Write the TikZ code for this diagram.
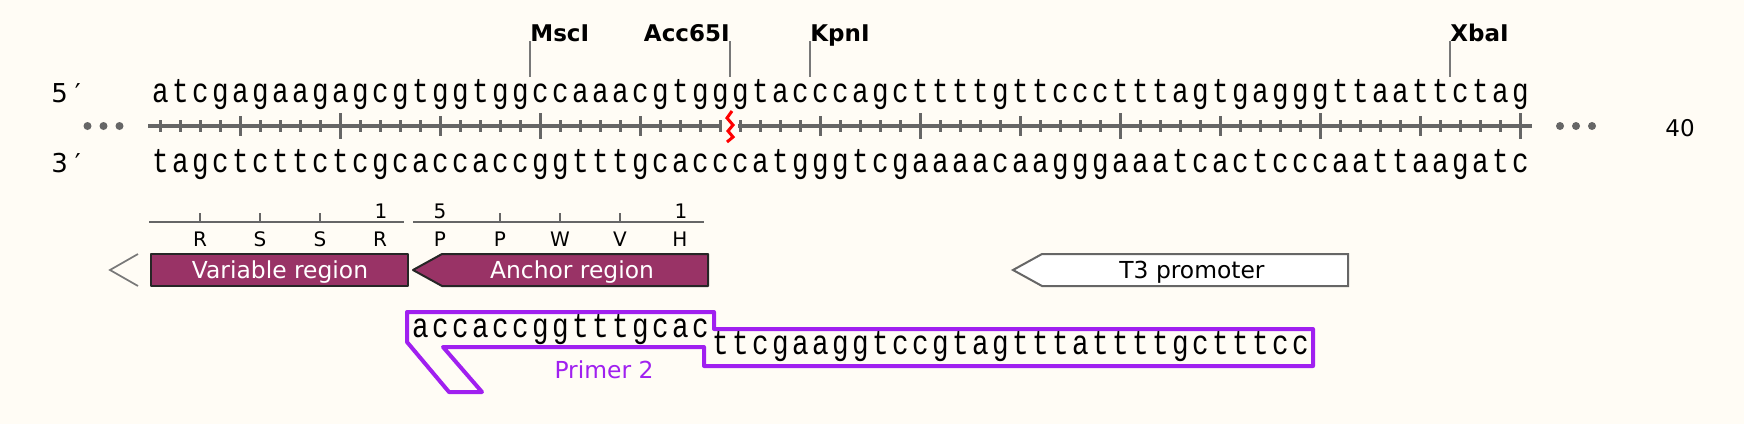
\documentclass[tikz,border=0pt]{standalone}
\usepackage{graphicx}
\usepackage{fontspec}
\setmainfont{DejaVu Sans}
\newfontfamily\seqfont{Liberation Mono}
\definecolor{paper}{RGB}{255,252,245}
\definecolor{featfill}{RGB}{153,51,102}
\definecolor{primcol}{RGB}{160,32,240}
\definecolor{rulecol}{RGB}{102,102,102}
\definecolor{sitecol}{RGB}{120,120,120}
\newcommand{\seqsize}{\fontsize{17.3}{20}\seqfont}
\newcommand{\strandsize}{\fontsize{13}{15}\selectfont}
\newcommand{\labelsize}{\fontsize{11.7}{14}\selectfont}
\newcommand{\sitesize}{\fontsize{11.5}{14}\selectfont\bfseries}
\newcommand{\aasize}{\fontsize{10}{12}\selectfont}
% one base per 20px cell
\newcommand{\spreadseq}[1]{\spreadnext#1\relax}
\newcommand{\spreadnext}[1]{\ifx\relax#1\else\makebox[10pt]{\scalebox{0.8}[1]{#1}}\expandafter\spreadnext\fi}

\begin{document}
\begin{tikzpicture}[x=0.5pt,y=-0.5pt,
  seq/.style={anchor=base west,inner sep=0pt,font=\seqsize},
  site/.style={inner sep=0pt,font=\sitesize},
  cutline/.style={draw=sitecol,line width=0.85pt},
  feature/.style={draw=black!85,fill=featfill,line width=1pt,line join=round},
  featlabel/.style={anchor=base,inner sep=0pt,font=\labelsize},
  aa/.style={anchor=base,inner sep=0pt,font=\aasize}]
\useasboundingbox[fill=paper] (0,0) rectangle (1744,424);

%*** Sequence ***
\node[anchor=base west,inner sep=0pt,font=\strandsize] (five) at (51,102) {5\kern3.5pt′};
\node[anchor=base west,inner sep=0pt,font=\strandsize] (three) at (51,172) {3\kern3.5pt′};
\node[seq] (topstrand) at (150,102) {\spreadseq{atcgagaagagcgtggtggccaaacgtgggtacccagcttttgttccctttagtgagggttaattctag}};
\node[seq] (botstrand) at (150,172) {\spreadseq{tagctcttctcgcaccaccggtttgcacccatgggtcgaaaacaagggaaatcactcccaattaagatc}};

%Ruler
\draw[rulecol,line width=2pt] (148,126) -- (722,126);
\draw[rulecol,line width=2pt] (738,126) -- (1532,126);

%Ticks
\foreach \n in {1,...,29}{
  \pgfmathsetmacro\h{ifthenelse(mod(\n,10)==0,13,ifthenelse(mod(\n,5)==0,10,6))}
  \draw[rulecol,line width=1.5pt] ({140+20*\n},{126-\h}) -- ({140+20*\n},{126+\h});
}
\foreach \n in {1,...,40}{
  \pgfmathsetmacro\h{ifthenelse(mod(\n,10)==0,13,ifthenelse(mod(\n,5)==0,10,6))}
  \draw[rulecol,line width=1.5pt] ({720+20*\n},{126-\h}) -- ({720+20*\n},{126+\h});
}

%Dots and break
\foreach \x in {87.5,103.5,119.5,1560,1576,1592}
  \fill[rulecol] (\x,126) circle (4);
\draw[red,line width=1.5pt] (732,111) -- (727,118) -- (733,125) -- (728,131) -- (733,137) -- (727,142);
\node[anchor=base,inner sep=0pt,font=\fontsize{11.5}{14}\selectfont] (len) at (1680,136.7) {40};

%Sites
\node[site,anchor=base west] (mscI) at (530,41) {MscI};
\node[site,anchor=base east] (acc) at (730,41) {Acc65I};
\node[site,anchor=base west] (kpnI) at (810,41) {KpnI};
\node[site,anchor=base west] (xbaI) at (1450,41) {XbaI};
\coordinate (mscIcut) at (530,77);
\coordinate (acccut) at (730,77);
\coordinate (kpnIcut) at (810,77);
\coordinate (xbaIcut) at (1450,77);
\draw[cutline] (mscI.base west) -- (mscIcut);
\draw[cutline] (acc.base east) -- (acccut);
\draw[cutline] (kpnI.base west) -- (kpnIcut);
\draw[cutline] (xbaI.base west) -- (xbaIcut);

%Translation
\draw[rulecol,line width=1pt] (149,222) -- (404,222);
\draw[rulecol,line width=1pt] (413,222) -- (704,222);
\foreach \x in {200,260,320,500,560,620}
  \draw[rulecol,line width=1pt] (\x,222) -- (\x,213);
\node[aa] (numa) at (381,218) {1};
\node[aa] (numb) at (440,218) {5};
\node[aa] (numc) at (681,218) {1};
\foreach \a/\x in {R/200,S/260,S/320,R/380,P/440,P/500,W/560,V/620,H/680}
  \node[aa] (aa\x) at (\x,246.7) {\a};

%*** Features ***
\draw[sitecol,line width=0.85pt] (138,254) -- (110,270) -- (138,286);
\draw[feature] (151,254) rectangle (408,286);
\node[featlabel,text=white] (varreg) at (280,278) {Variable region};
\draw[feature] (413,270) -- (442,254) -- (708,254) -- (708,286) -- (442,286) -- cycle;
\node[featlabel,text=white] (anchreg) at (572,278) {Anchor region};
\draw[draw=rulecol,fill=white,line width=1pt] (1013,270) -- (1042,254) -- (1348,254) -- (1348,286) -- (1042,286) -- cycle;
\node[featlabel] (tthree) at (1192,278) {T3 promoter};

%Primer
\draw[primcol,line width=2pt,line join=round] (407,312) -- (714,312) -- (714,329) -- (1313,329) -- (1313,366) -- (704,366) -- (704,347) -- (443,347) -- (482,392) -- (449,392) -- (407,342) -- cycle;
\node[seq] (primleft) at (410,337) {\spreadseq{accaccggtttgcac}};
\node[seq] (primright) at (710,354) {\spreadseq{ttcgaaggtccgtagtttattttgctttcc}};
\node[featlabel,text=primcol] (primlabel) at (604,378) {Primer 2};
\end{tikzpicture}
\end{document}
